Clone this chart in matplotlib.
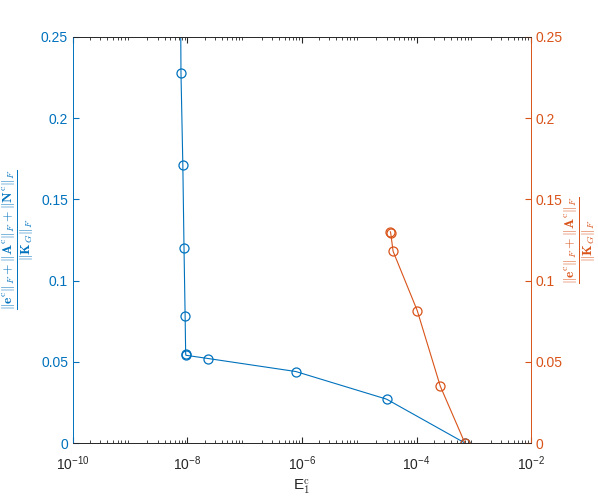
import numpy as np
import matplotlib.pyplot as plt
from matplotlib.ticker import LogLocator, FixedLocator

plt.rcParams['font.family'] = ['Liberation Sans', 'DejaVu Sans']
plt.rcParams['mathtext.fontset'] = 'cm'

blue = '#0072BD'
orange = '#D95319'

# error vs E1^c, blue: total norm, orange: without N
x_blue = [7.5e-9, 7.7e-9, 8.3e-9, 8.7e-9, 9.1e-9, 9.3e-9, 9.4e-9, 2.3e-8, 7.8e-7, 3.0e-5, 7.0e-4]
y_blue = [0.30, 0.228, 0.171, 0.120, 0.078, 0.055, 0.054, 0.052, 0.044, 0.027, 0.0]
x_orange = [3.50e-5, 3.55e-5, 3.9e-5, 1.03e-4, 2.6e-4, 7.0e-4]
y_orange = [0.130, 0.129, 0.118, 0.0815, 0.035, 0.0]
yticks = [0, 0.05, 0.1, 0.15, 0.2, 0.25]
ytick_labels = ['0', '0.05', '0.1', '0.15', '0.2', '0.25']

fig = plt.figure(figsize=(5.98, 4.99), dpi=100)
ax = fig.add_axes([0.122, 0.1122, 0.766, 0.814])
ax2 = ax.twinx()

ax.plot(x_blue, y_blue, '-o', color=blue, lw=0.8, mfc='none', ms=6.5, mew=0.9)
ax2.plot(x_orange, y_orange, '-o', color=orange, lw=0.8, mfc='none', ms=6.5, mew=0.9)

for a in (ax, ax2):
    a.set_xscale('log')
    a.set_xlim(1e-10, 1e-2)
    a.set_ylim(0, 0.25)
    a.set_yticks(yticks)
    a.set_yticklabels(ytick_labels)

ax.xaxis.set_major_locator(FixedLocator([1e-10, 1e-8, 1e-6, 1e-4, 1e-2]))
ax.xaxis.set_minor_locator(LogLocator(base=10, subs=np.arange(2, 10), numticks=20))
ax.tick_params(axis='x', which='both', direction='in', top=True, colors='#262626', labelsize=10, pad=8)
ax.tick_params(axis='x', which='major', length=4)
ax.tick_params(axis='x', which='minor', length=2.5)
ax.tick_params(axis='y', direction='in', colors=blue, labelsize=10, length=4)
ax2.tick_params(axis='y', direction='in', colors=orange, labelsize=10, length=4)

ax.spines['left'].set_color(blue)
ax2.spines['left'].set_color(blue)
ax.spines['right'].set_color(orange)
ax2.spines['right'].set_color(orange)
for a in (ax, ax2):
    a.spines['top'].set_color('#262626')
    a.spines['bottom'].set_color('#262626')
    for s in a.spines.values():
        s.set_linewidth(0.6)

ax.set_xlabel(r'E$_1^{\mathrm{c}}$', fontsize=11, color='#262626', labelpad=3)
ax.set_ylabel(r'$\frac{\|\mathbf{e}^{\mathrm{c}}\|_F+\|\mathbf{A}^{\mathrm{c}}\|_F+\|\mathbf{N}^{\mathrm{c}}\|_F}{\|\mathbf{K}_G\|_F}$',
              fontsize=14, color=blue, labelpad=3)
ax2.set_ylabel(r'$\frac{\|\mathbf{e}^{\mathrm{c}}\|_F+\|\mathbf{A}^{\mathrm{c}}\|_F}{\|\mathbf{K}_G\|_F}$',
               fontsize=14, color=orange, labelpad=0)

fig.savefig('out.png', dpi=100)
